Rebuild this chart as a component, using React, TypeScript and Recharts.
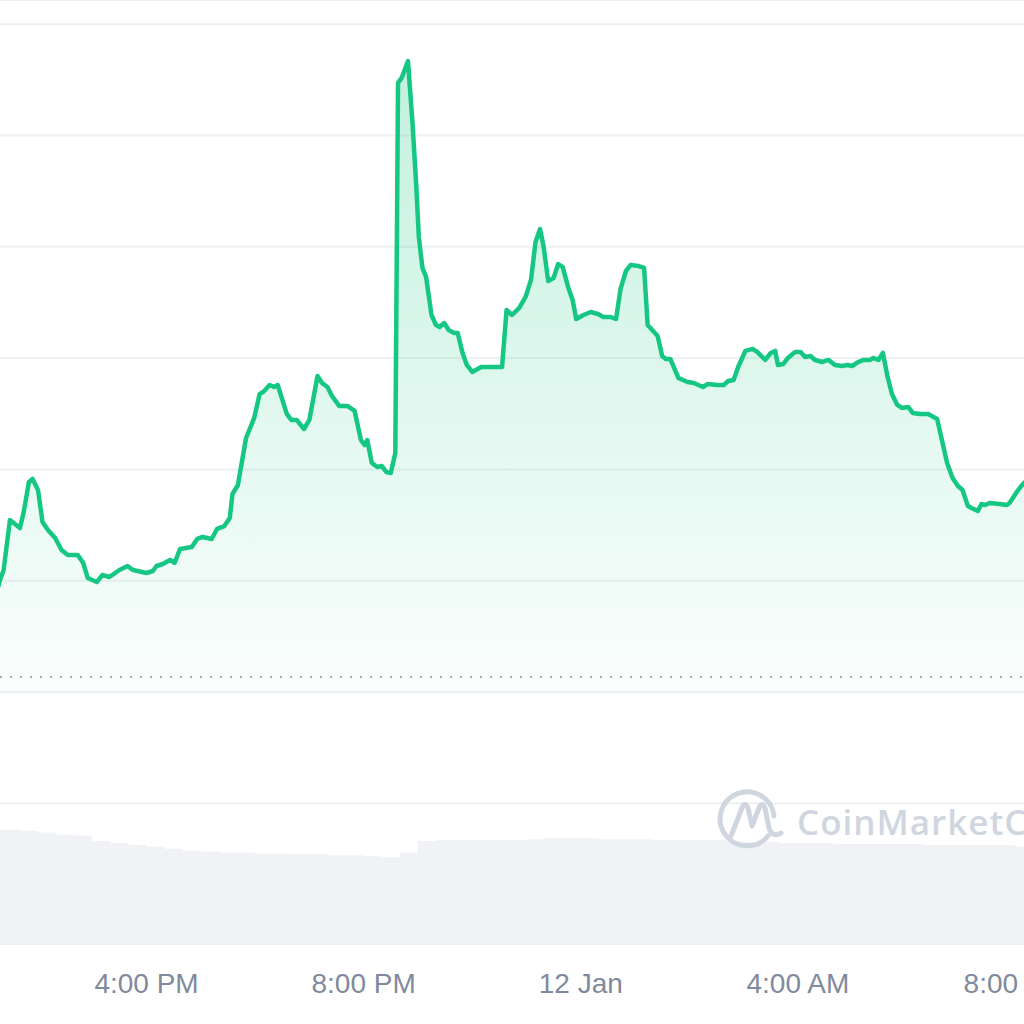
import React from "react";
import { Area, CartesianGrid, ComposedChart, ReferenceLine, XAxis, YAxis } from "recharts";

// minutes since 11 Jan 00:00
const priceTimes = [
  789, 798, 802, 809, 820, 824, 830, 834, 840, 845, 851, 859, 866, 873, 884, 890, 895, 905, 911, 919,
  930, 939, 945, 960, 967, 971, 978, 986, 991, 997, 1010, 1016, 1022, 1032, 1038, 1046, 1052, 1055, 1061, 1070,
  1079, 1085, 1090, 1096, 1101, 1105, 1115, 1120, 1126, 1134, 1140, 1149, 1154, 1160, 1165, 1173, 1182, 1190, 1197, 1201,
  1204, 1209, 1215, 1220, 1225, 1230, 1235, 1238, 1242, 1249, 1254, 1258, 1261, 1265, 1269, 1275, 1280, 1284, 1289, 1294,
  1300, 1304, 1309, 1314, 1320, 1330, 1336, 1346, 1353, 1358, 1364, 1372, 1379, 1385, 1390, 1395, 1399, 1404, 1410, 1415,
  1420, 1426, 1431, 1435, 1443, 1451, 1459, 1465, 1473, 1479, 1484, 1490, 1495, 1504, 1510, 1514, 1519, 1525, 1530, 1534,
  1539, 1548, 1558, 1565, 1575, 1580, 1591, 1598, 1603, 1609, 1614, 1622, 1630, 1635, 1644, 1650, 1655, 1658, 1664, 1669,
  1677, 1683, 1688, 1694, 1699, 1707, 1714, 1721, 1729, 1735, 1740, 1747, 1752, 1760, 1763, 1769, 1774, 1779, 1784, 1790,
  1795, 1802, 1807, 1815, 1824, 1828, 1834, 1837, 1845, 1851, 1857, 1862, 1868, 1872, 1879, 1883, 1887, 1892, 1903, 1911,
  1914, 1922, 1928, 1936,
];

const prices = [
  1.0737, 1.1006, 1.1096, 1.1545, 1.1473, 1.1608, 1.1887, 1.1914, 1.1815, 1.1527, 1.1456, 1.1384, 1.1276, 1.1231, 1.1231, 1.1159, 1.1024, 1.0988, 1.1051, 1.1033,
  1.1096, 1.1132, 1.1096, 1.1069, 1.1087, 1.1132, 1.115, 1.1186, 1.1159, 1.1285, 1.1303, 1.1375, 1.1393, 1.1375, 1.1465, 1.1491, 1.1563, 1.1779, 1.186, 1.2282,
  1.2462, 1.2677, 1.2704, 1.2758, 1.274, 1.2758, 1.2498, 1.2444, 1.2444, 1.2363, 1.2444, 1.2839, 1.2776, 1.274, 1.2659, 1.257, 1.257, 1.2525, 1.2264, 1.2219,
  1.2264, 1.2058, 1.2022, 1.2031, 1.1977, 1.1968, 1.2147, 1.5472, 1.5517, 1.5669, 1.5112, 1.4573, 1.4088, 1.381, 1.3729, 1.3387, 1.3297, 1.3279, 1.3315, 1.3252,
  1.3226, 1.3226, 1.3055, 1.2938, 1.2875, 1.292, 1.292, 1.292, 1.292, 1.3432, 1.3387, 1.345, 1.3549, 1.3702, 1.4043, 1.416, 1.3998, 1.3693, 1.372, 1.3845,
  1.3819, 1.3639, 1.3522, 1.3351, 1.3387, 1.3414, 1.3396, 1.3369, 1.3369, 1.3351, 1.3621, 1.3783, 1.3836, 1.3827, 1.381, 1.3297, 1.3252, 1.3199, 1.3019, 1.2992,
  1.2992, 1.2821, 1.2785, 1.2776, 1.274, 1.2767, 1.2758, 1.2758, 1.2794, 1.2803, 1.292, 1.3064, 1.3082, 1.3055, 1.2983, 1.3046, 1.3064, 1.2938, 1.2947, 1.3001,
  1.3055, 1.3055, 1.301, 1.3019, 1.2983, 1.2965, 1.2983, 1.2938, 1.2929, 1.2938, 1.2929, 1.2965, 1.2983, 1.2983, 1.3001, 1.2983, 1.3046, 1.2839, 1.2677, 1.2579,
  1.2552, 1.2561, 1.2507, 1.2498, 1.2498, 1.248, 1.2453, 1.2345, 1.2058, 1.1923, 1.1851, 1.1815, 1.1671, 1.1653, 1.1626, 1.1689, 1.168, 1.1698, 1.1689, 1.168,
  1.1698, 1.1797, 1.186, 1.1923,
];

const volumeTimes = [
  780, 800, 820, 840, 860, 880, 900, 920, 940, 960, 980, 1000, 1020, 1040, 1060, 1080, 1100, 1120, 1140, 1160,
  1180, 1200, 1220, 1240, 1260, 1280, 1300, 1320, 1340, 1360, 1380, 1400, 1420, 1440, 1460, 1480, 1500, 1520, 1540, 1560,
  1580, 1600, 1620, 1640, 1660, 1680, 1700, 1720, 1740, 1760, 1780, 1800, 1820, 1840, 1860, 1880, 1900, 1920, 1940,
];

const volumes = [
  121, 121, 120, 118, 116, 115, 109, 107, 105, 103, 101, 99, 98, 97, 97, 96, 96, 95, 95, 94,
  94, 93, 92, 97, 109, 110, 110, 110, 110, 110, 111, 112, 112, 112, 111, 111, 111, 110, 110, 110,
  110, 109, 108, 108, 107, 107, 107, 106, 106, 106, 106, 106, 105, 105, 105, 105, 105, 103, 102,
];

const tickMinutes = [960, 1200, 1440, 1680, 1920];
const tickLabels = ["4:00 PM", "8:00 PM", "12 Jan", "4:00 AM", "8:00 AM"];
const priceTicks = [0.9, 1.0, 1.1, 1.2, 1.3, 1.4, 1.5, 1.6];
const openPrice = 1.0135;

const GREEN = "#16c784";
const GRAY_TEXT = "#808a9d";

type Row = { t: number; price?: number; volume?: number };

const rowMap = new Map<number, Row>();
priceTimes.forEach((t, i) => rowMap.set(t, { ...(rowMap.get(t) ?? { t }), price: prices[i] }));
volumeTimes.forEach((t, i) => rowMap.set(t, { ...(rowMap.get(t) ?? { t }), volume: volumes[i] }));
const data: Row[] = [...rowMap.values()].sort((a, b) => a.t - b.t);

function fmtTick(v: number): string {
  const i = tickMinutes.indexOf(v);
  return i >= 0 ? tickLabels[i] : "";
}

function Watermark() {
  return (
    <svg
      width={1024}
      height={1024}
      style={{ position: "absolute", left: 0, top: 0, pointerEvents: "none" }}
    >
      <g fill="none" stroke="#d0d6df" strokeWidth={5} strokeLinecap="round" strokeLinejoin="round">
        <path d="M 768 836 A 27 27 0 1 1 774 816" />
        <path d="M 731 836 L 742 808 Q 745 801 748 808 L 752 826 L 759 808 Q 762 801 765 808 L 769 828 Q 772 838 781 833" />
      </g>
      <text
        x={797}
        y={835}
        fill="#d0d6df"
        fontFamily="'Open Sans', sans-serif"
        fontWeight={600}
        fontSize={35}
        letterSpacing={1}
      >
        CoinMarketCap
      </text>
    </svg>
  );
}

export default function App() {
  return (
    <div
      style={{
        position: "absolute",
        left: 0,
        top: 0,
        width: 1024,
        height: 1024,
        overflow: "hidden",
        background: "#fff",
        fontFamily: "'Liberation Sans', Arial, sans-serif",
      }}
    >
      <ComposedChart width={1024} height={1024} data={data} margin={{ top: 0, right: 0, left: 0, bottom: 0 }}>
        <defs>
          <linearGradient id="priceFill" x1="0" y1="0" x2="0" y2="1">
            <stop offset="0%" stopColor={GREEN} stopOpacity={0.26} />
            <stop offset="100%" stopColor={GREEN} stopOpacity={0.02} />
          </linearGradient>
        </defs>
        <CartesianGrid yAxisId="price" vertical={false} stroke="#eef0f3" strokeWidth={2} />
        <XAxis
          dataKey="t"
          type="number"
          domain={[798, 1930]}
          allowDataOverflow
          ticks={tickMinutes}
          tickFormatter={fmtTick}
          axisLine={false}
          tickLine={false}
          tickMargin={23}
          height={80}
          interval={0}
          tick={{ fill: GRAY_TEXT, fontSize: 28 }}
        />
        <YAxis yAxisId="price" hide domain={[0.7736, 1.6217]} ticks={priceTicks} allowDataOverflow />
        <YAxis yAxisId="vol" hide domain={[0, 1000]} allowDataOverflow />
        <Area
          yAxisId="vol"
          dataKey="volume"
          type="stepAfter"
          stroke="none"
          fill="#f0f2f5"
          fillOpacity={1}
          connectNulls
          dot={false}
          activeDot={false}
          isAnimationActive={false}
        />
        <ReferenceLine yAxisId="price" y={openPrice} stroke="#a7adba" strokeWidth={2} strokeDasharray="2 8" />
        <Area
          yAxisId="price"
          dataKey="price"
          type="linear"
          baseValue={1.0}
          stroke={GREEN}
          strokeWidth={4.5}
          strokeLinejoin="round"
          fill="url(#priceFill)"
          fillOpacity={1}
          connectNulls
          dot={false}
          activeDot={false}
          isAnimationActive={false}
        />
      </ComposedChart>
      <Watermark />
    </div>
  );
}
